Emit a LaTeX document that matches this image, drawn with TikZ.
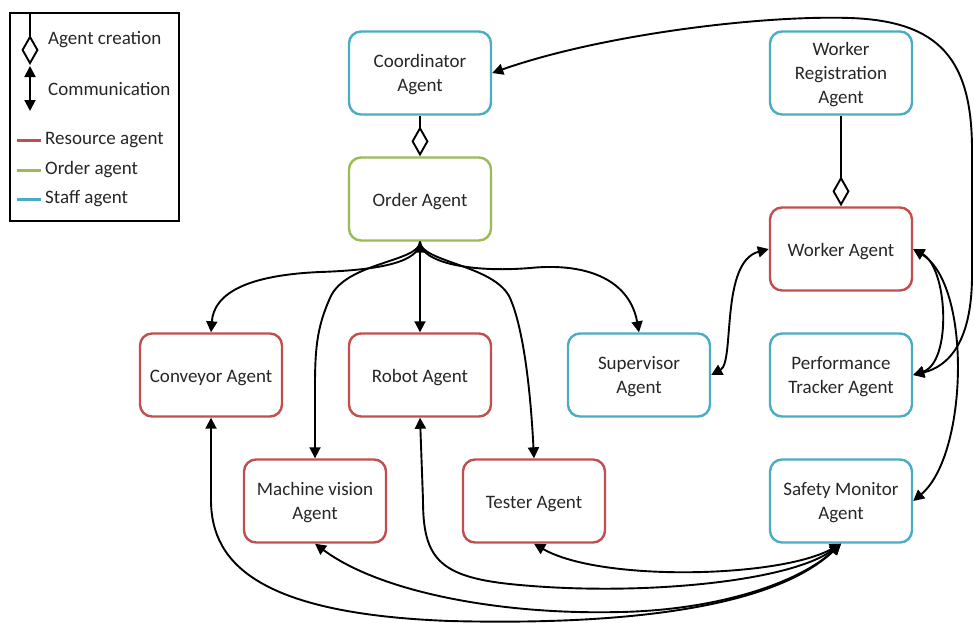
\documentclass[tikz,border=0pt]{standalone}
\usepackage{fontspec}
\setmainfont{Carlito}
\usetikzlibrary{arrows.meta}
\definecolor{resred}{HTML}{C0504D}
\definecolor{ordgreen}{HTML}{9BBB59}
\definecolor{staffblue}{HTML}{4BACC6}
\definecolor{txt}{HTML}{262626}
% top struts that set the text a little lower in its box
\newcommand{\onestrut}{\rule{0pt}{18pt}}
\newcommand{\manystrut}{\rule{0pt}{16.5pt}}
\begin{document}
\begin{tikzpicture}[x=1pt,y=-1pt,
  agent/.style={draw, rounded corners=12pt, line width=2.4pt, minimum width=142pt,
    minimum height=83pt, align=center, inner sep=0pt, text=txt,
    font=\fontsize{19}{24}\selectfont},
  resource/.style={agent, draw=resred},
  orderag/.style={agent, draw=ordgreen},
  staff/.style={agent, draw=staffblue},
  tip/.tip={Triangle[length=11pt,width=11pt]},
  comm/.style={line width=1.9pt, tip-tip},
  commone/.style={line width=1.9pt, -tip},
  creation/.style={line width=1.9pt, -{Diamond[open,length=30pt,width=17pt,line width=1.9pt]}},
  legtext/.style={anchor=west, inner sep=0pt, text=txt, font=\fontsize{19}{24}\selectfont}
]
\useasboundingbox (0,0) rectangle (974,622);

% agents
\node[staff]    (coord)  at (420,73)  {\manystrut Coordinator\\Agent};
\node[staff]    (wreg)   at (841,73)  {\manystrut Worker\\Registration\\Agent};
\node[orderag]  (order)  at (420,199) {\onestrut Order Agent};
\node[resource] (worker) at (841,249) {\onestrut Worker Agent};
\node[resource] (conv)   at (211,375) {\onestrut Conveyor Agent};
\node[resource] (robot)  at (420,375) {\onestrut Robot Agent};
\node[staff]    (super)  at (639,375) {\manystrut Supervisor\\Agent};
\node[staff]    (perf)   at (841,375) {\manystrut Performance\\Tracker Agent};
\node[resource] (mv)     at (315,501) {\manystrut Machine vision\\Agent};
\node[resource] (tester) at (534,501) {\onestrut Tester Agent};
\node[staff]    (safety) at (841,501) {\manystrut Safety Monitor\\Agent};

% agent creation
\draw[creation] (coord.south) -- (order.north);
\draw[creation] (wreg.south) -- (worker.north);

% order agent to the resources and the supervisor
\draw[comm] (order.south) -- (robot.north);
\draw[commone] (order.south) .. controls (420,262) and (380,270) .. (320,272)
  .. controls (250,275) and (214,292) .. (conv.north);
\draw[commone] (order.south) .. controls (420,262) and (345,262) .. (330,298)
  .. controls (318,325) and (315,345) .. (315,385) -- (mv.north);
\draw[commone] (order.south) .. controls (420,262) and (495,265) .. (510,298)
  .. controls (522,325) and (530,380) .. (tester.north);
\draw[commone] (order.south) .. controls (420,262) and (470,273) .. (530,268)
  .. controls (590,262) and (630,282) .. (super.north);

% supervisor and worker
\draw[comm] (super.east) .. controls (735,362) and (720,262) .. (worker.west);

% worker to tracker and safety monitor
\draw[comm] (worker.east) .. controls (948,268) and (952,362) .. (perf.east);
\draw[comm] (worker.east) .. controls (972,285) and (968,455) .. (safety.east);

% coordinator and tracker
\draw[comm] (coord.east) .. controls (600,35) and (760,15) .. (850,18)
  .. controls (940,21) and (972,60) .. (972,150) -- (972,275)
  .. controls (972,340) and (950,366) .. (perf.east);

% safety monitor to the resources
\draw[comm] (safety.south) .. controls (780,578) and (600,582) .. (tester.south);
\draw[comm] (safety.south) .. controls (790,582) and (640,596) .. (520,585)
  .. controls (440,578) and (423,560) .. (423,500) -- (robot.south);
\draw[comm] (safety.south) .. controls (800,582) and (720,610) .. (620,612)
  .. controls (500,615) and (380,592) .. (mv.south);
\draw[comm] (safety.south) .. controls (780,602) and (650,626) .. (450,621)
  .. controls (262,614) and (211,565) .. (211,500) -- (conv.south);

% legend
\node[draw, line width=1.3pt, minimum width=169pt, minimum height=208pt, inner sep=0pt]
  (legend) at (94.5,117) {};
\coordinate (ctop) at (30,13);
\coordinate (cdia) at (30,65);
\draw[creation] (ctop) -- (cdia);
\node[legtext] (lcreate) at (48,40) {Agent creation};
\coordinate (mtop) at (30,66);
\coordinate (mbot) at (30,111);
\draw[comm] (mtop) -- (mbot);
\node[legtext] (lcomm) at (48,89) {Communication};
\coordinate (r1) at (17,140); \coordinate (r2) at (41,140);
\draw[resred, line width=3pt] (r1) -- (r2);
\node[legtext] (lres) at (45,140) {Resource agent};
\coordinate (o1) at (17,170); \coordinate (o2) at (41,170);
\draw[ordgreen, line width=3pt] (o1) -- (o2);
\node[legtext] (lord) at (45,170) {Order agent};
\coordinate (s1) at (17,199); \coordinate (s2) at (41,199);
\draw[staffblue, line width=3pt] (s1) -- (s2);
\node[legtext] (lstaff) at (45,199) {Staff agent};
\end{tikzpicture}
\end{document}
